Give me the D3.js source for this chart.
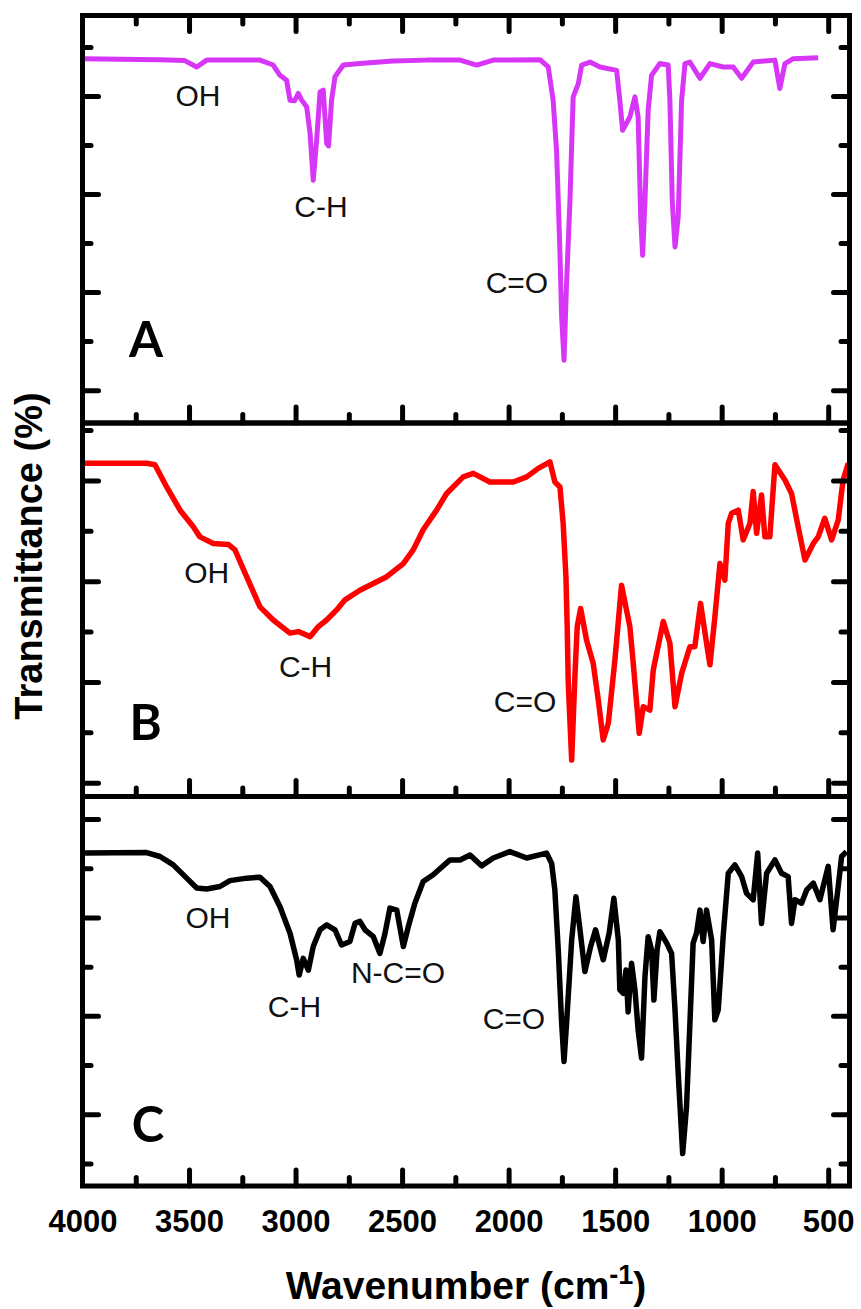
<!DOCTYPE html>
<html>
<head>
<meta charset="utf-8">
<script src="https://cdn.jsdelivr.net/npm/d3@7"></script>
<style>
  html, body { margin: 0; padding: 0; background: #ffffff; }
  svg { display: block; }
</style>
</head>
<body>
<div id="chart"></div>
<script>
// ---------------- DATA ----------------
// FTIR spectra: [wavenumber (cm-1), transmittance (%)]
const spectrumA = [
  [3996,87.6],[3824,87.5],[3636,87.4],[3520,87.2],[3464,85.9],[3417,87.3],[3167,87.3],[3105,86.3],
  [3073,84.2],[3042,83.2],[3026,79.1],[3005,79.0],[2987,80.5],[2971,79.1],[2948,77.8],[2932,72.4],
  [2917,62.8],[2901,71.0],[2885,80.8],[2870,81.2],[2854,70.3],[2845,69.8],[2831,79.1],[2815,83.9],
  [2776,86.3],[2698,86.6],[2543,87.1],[2385,87.3],[2228,87.3],[2150,86.3],[2072,87.3],[1853,87.4],
  [1814,85.9],[1791,79.1],[1775,68.9],[1767,58.7],[1759,47.9],[1751,34.9],[1740,26.1],[1728,41.8],
  [1712,58.7],[1697,79.8],[1673,82.5],[1657,86.3],[1618,86.9],[1571,85.9],[1493,85.2],[1478,79.1],
  [1465,73.0],[1431,75.7],[1407,79.8],[1392,75.7],[1380,55.3],[1371,47.5],[1360,58.7],[1345,77.1],
  [1329,84.2],[1290,86.6],[1251,86.3],[1243,79.1],[1232,58.7],[1219,49.2],[1204,55.3],[1188,79.1],
  [1172,86.6],[1149,86.9],[1102,83.6],[1055,86.6],[993,85.9],[946,85.9],[906,83.6],[852,86.9],
  [750,87.3],[727,81.5],[703,86.6],[664,87.6],[547,87.8]
];
const spectrumB = [
  [3996,83.4],[3699,83.4],[3660,83.1],[3605,78.7],[3542,74.1],[3480,70.8],[3449,68.8],[3386,67.5],
  [3316,67.3],[3284,66.2],[3237,61.6],[3167,54.9],[3105,52.3],[3026,49.7],[2987,50.0],[2932,49.0],
  [2893,51.0],[2854,52.3],[2807,54.3],[2768,56.3],[2698,58.2],[2572,60.9],[2494,63.5],[2448,66.2],
  [2401,70.2],[2338,74.1],[2291,77.4],[2213,80.7],[2166,81.4],[2088,79.7],[1978,79.7],[1915,80.7],
  [1861,82.4],[1806,83.7],[1783,79.7],[1759,78.7],[1744,71.5],[1731,60.9],[1725,51.0],[1720,39.7],
  [1704,24.5],[1689,41.0],[1678,51.0],[1662,54.6],[1634,48.3],[1603,43.7],[1579,36.4],[1556,28.5],
  [1532,31.8],[1501,44.4],[1470,59.2],[1431,51.0],[1415,43.7],[1387,29.8],[1368,35.1],[1337,34.4],
  [1321,42.4],[1274,52.0],[1243,47.7],[1219,35.1],[1188,41.7],[1149,47.0],[1126,47.0],[1099,55.6],
  [1071,47.7],[1055,43.4],[1032,52.9],[1008,63.5],[985,60.2],[969,71.5],[953,73.5],[922,74.1],
  [899,68.2],[867,71.5],[852,77.8],[836,69.5],[813,77.1],[797,68.8],[774,68.8],[750,83.1],
  [703,80.1],[672,77.4],[641,70.8],[609,64.2],[570,67.5],[547,68.8],[516,72.5],[484,68.2],
  [453,72.1],[430,80.1],[406,83.4]
];
const spectrumC = [
  [3988,73.1],[3699,73.2],[3636,72.4],[3574,70.7],[3511,68.0],[3464,66.0],[3417,65.8],[3355,66.3],
  [3308,67.5],[3229,68.0],[3167,68.2],[3120,66.3],[3073,62.2],[3026,56.8],[2995,51.4],[2983,48.3],
  [2964,51.7],[2940,49.3],[2917,54.1],[2885,57.5],[2854,58.5],[2815,57.5],[2784,54.4],[2745,55.1],
  [2721,58.8],[2698,59.2],[2674,57.5],[2635,56.1],[2604,52.7],[2580,56.8],[2557,61.9],[2525,61.5],
  [2494,54.1],[2471,58.1],[2440,62.9],[2401,67.3],[2354,68.7],[2275,71.7],[2228,71.7],[2181,72.7],
  [2127,70.5],[2072,72.1],[1994,73.4],[1915,72.1],[1822,73.1],[1798,71.0],[1783,65.6],[1767,53.4],
  [1751,38.5],[1740,30.7],[1728,38.5],[1704,55.4],[1684,64.2],[1665,57.5],[1642,49.0],[1615,54.1],
  [1592,57.5],[1556,51.4],[1528,56.8],[1506,63.9],[1485,55.4],[1478,45.3],[1462,44.6],[1449,49.3],
  [1439,40.8],[1423,50.7],[1407,45.3],[1392,37.1],[1376,31.4],[1360,48.0],[1345,56.1],[1329,53.4],
  [1318,43.2],[1303,53.4],[1290,57.1],[1258,54.8],[1235,52.7],[1219,41.2],[1204,28.3],[1183,12.0],
  [1165,21.5],[1149,38.5],[1134,54.8],[1118,56.8],[1102,61.5],[1087,55.1],[1071,61.5],[1047,55.4],
  [1032,39.2],[1016,41.2],[993,56.1],[969,69.0],[938,70.7],[906,68.3],[883,64.9],[852,63.6],
  [831,73.1],[813,58.8],[789,69.0],[750,71.7],[719,69.0],[688,68.3],[672,58.8],[656,63.6],
  [625,62.9],[601,65.6],[570,67.0],[539,63.6],[500,70.4],[477,57.5],[453,66.3],[437,72.4],[414,73.4]
];

// Band annotations [text, wavenumber, transmittance]
const labelsA = [["OH",3458,77.9],["C-H",2881,55.3],["C=O",1961,39.8]];
const labelsB = [["OH",3417,59.6],["C-H",2953,41.0],["C=O",1923,34.1]];
const labelsC = [["OH",3411,57.8],["C-H",3005,39.8],["N-C=O",2519,46.6],["C=O",1975,37.3]];
const panelLetters = [["A",3702,26.7],["B",3704,28.5],["C",3693,14.4]];

// Axis ticks
const xMajorTicks = [4000,3500,3000,2500,2000,1500,1000,500];
const xMinorTicks = [3750,3250,2750,2250,1750,1250,750];
const xDomain = [4000, 400];
const yTicksAB = [20,30,40,50,60,70,80,90];
const yTicksC = [10,20,30,40,50,60,70,80];
const yDomainA = [13.3, 96.4];
const yDomainB = [17.27, 91.4];
const yDomainC = [5.4, 84.6];

const xTitle = "Wavenumber (cm";
const xTitleSup = "-1";
const yTitle = "Transmittance (%)";

// ---------------- LAYOUT ----------------
const W = 861, H = 1309;
const left = 82.5, right = 849.5;
const panels = [
  {top: 15.5, bottom: 423, dom: yDomainA, ticks: yTicksAB, data: spectrumA, color: "#d836f7", width: 5, labels: labelsA, letter: panelLetters[0], topTicks: true},
  {top: 423, bottom: 796.5, dom: yDomainB, ticks: yTicksAB, data: spectrumB, color: "#ff0000", width: 5.5, labels: labelsB, letter: panelLetters[1], topTicks: false},
  {top: 796.5, bottom: 1186, dom: yDomainC, ticks: yTicksC, data: spectrumC, color: "#000000", width: 5.5, labels: labelsC, letter: panelLetters[2], topTicks: false}
];

const svg = d3.select("#chart").append("svg").attr("width", W).attr("height", H);
const x = d3.scaleLinear().domain(xDomain).range([left, right]);

const MAJ = 16, MIN = 8.5;
function styleAxis(g) {
  g.select(".domain").remove();
  g.selectAll(".tick line").attr("stroke", "#000").attr("stroke-width", 5).attr("stroke-linecap", "round");
}

panels.forEach((p, i) => {
  const y = d3.scaleLinear().domain(p.dom).range([p.bottom, p.top]);
  const g = svg.append("g");

  const clipId = "clip" + i;
  svg.append("clipPath").attr("id", clipId).append("rect")
    .attr("x", left).attr("y", p.top).attr("width", right - left).attr("height", p.bottom - p.top);

  const line = d3.line().x(d => x(d[0])).y(d => y(d[1])).curve(d3.curveLinear);
  g.append("path").datum(p.data)
    .attr("clip-path", `url(#${clipId})`)
    .attr("fill", "none").attr("stroke", p.color).attr("stroke-width", p.width)
    .attr("stroke-linejoin", "round").attr("d", line);

  const majY = p.ticks.filter(v => v % 20 === 0);
  const minY = p.ticks.filter(v => v % 20 !== 0);

  [[d3.axisLeft, left], [d3.axisRight, right]].forEach(([ax, xp]) => {
    g.append("g").attr("transform", `translate(${xp},0)`)
      .call(ax(y).tickValues(majY).tickSize(-MAJ).tickFormat("")).call(styleAxis);
    g.append("g").attr("transform", `translate(${xp},0)`)
      .call(ax(y).tickValues(minY).tickSize(-MIN).tickFormat("")).call(styleAxis);
  });

  g.append("g").attr("transform", `translate(0,${p.bottom})`)
    .call(d3.axisBottom(x).tickValues(xMajorTicks.filter(v => v !== 4000)).tickSize(-MAJ).tickFormat("")).call(styleAxis);
  g.append("g").attr("transform", `translate(0,${p.bottom})`)
    .call(d3.axisBottom(x).tickValues(xMinorTicks).tickSize(-MIN).tickFormat("")).call(styleAxis);
  if (p.topTicks) {
    g.append("g").attr("transform", `translate(0,${p.top})`)
      .call(d3.axisTop(x).tickValues(xMajorTicks.filter(v => v !== 4000)).tickSize(-MAJ).tickFormat("")).call(styleAxis);
    g.append("g").attr("transform", `translate(0,${p.top})`)
      .call(d3.axisTop(x).tickValues(xMinorTicks).tickSize(-MIN).tickFormat("")).call(styleAxis);
  }

  g.append("rect").attr("x", left).attr("y", p.top).attr("width", right - left).attr("height", p.bottom - p.top)
    .attr("fill", "none").attr("stroke", "#000").attr("stroke-width", 5);

  g.selectAll("text.ann").data(p.labels).enter().append("text")
    .attr("class", "ann")
    .attr("x", d => x(d[1])).attr("y", d => y(d[2]))
    .attr("text-anchor", "middle")
    .attr("font-family", "'Liberation Sans', Arial, sans-serif")
    .attr("font-size", 30).attr("fill", "#111")
    .text(d => d[0]);

  g.append("text")
    .attr("x", x(p.letter[1])).attr("y", y(p.letter[2]))
    .attr("text-anchor", "middle")
    .attr("font-family", "Lato, 'Open Sans', sans-serif")
    .attr("font-weight", 700).attr("font-size", 49).attr("fill", "#000")
    .text(p.letter[0]);

  if (i === panels.length - 1) {
    const lab = svg.append("g").attr("transform", `translate(0,${p.bottom})`)
      .call(d3.axisBottom(x).tickValues(xMajorTicks).tickSize(0).tickPadding(24).tickFormat(d3.format("d")));
    lab.select(".domain").remove();
    lab.selectAll("text")
      .attr("font-family", "'Liberation Sans', Arial, sans-serif")
      .attr("font-weight", 700).attr("font-size", 31).attr("fill", "#000");
  }
});

const xt = svg.append("text")
  .attr("x", (left + right) / 2).attr("y", 1299)
  .attr("text-anchor", "middle")
  .attr("font-family", "'Liberation Sans', Arial, sans-serif")
  .attr("font-weight", 700).attr("font-size", 39).attr("fill", "#000");
xt.append("tspan").text(xTitle);
xt.append("tspan").attr("font-size", 27).attr("dy", -15).text(xTitleSup);
xt.append("tspan").attr("dy", 15).text(")");

svg.append("text")
  .attr("transform", "translate(42,556) rotate(-90)")
  .attr("text-anchor", "middle")
  .attr("font-family", "'Liberation Sans', Arial, sans-serif")
  .attr("font-weight", 700).attr("font-size", 38).attr("fill", "#000")
  .text(yTitle);
</script>
</body>
</html>
